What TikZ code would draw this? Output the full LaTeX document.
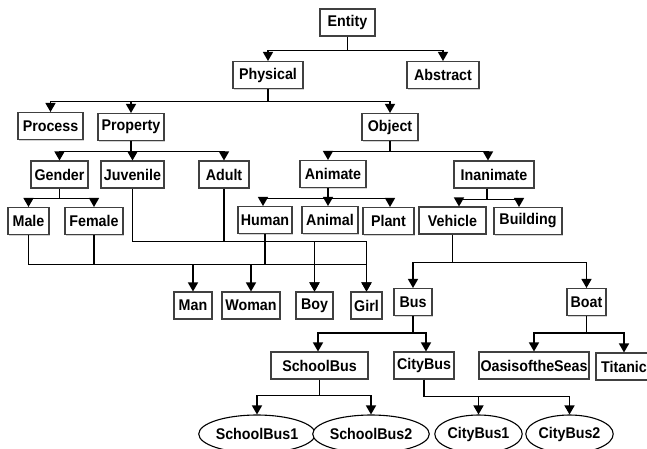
\documentclass[tikz,border=0pt]{standalone}
\usepackage{fontspec}
\setmainfont{Liberation Sans}[FakeStretch=0.92]
\usepackage{tikz}
\usetikzlibrary{arrows,shapes.geometric,shadows}
\tikzset{concept/.style={draw=black!75,line width=1.1pt,fill=white,inner sep=0pt,minimum height=27pt,font=\bfseries\fontsize{15.5}{17}\selectfont,drop shadow={shadow xshift=1.2pt,shadow yshift=-1.2pt,opacity=0.35}}}
\tikzset{instance/.style={ellipse,draw=black,line width=1.1pt,fill=white,inner sep=0pt,minimum height=38pt,font=\bfseries\fontsize{15.5}{17}\selectfont}}
\tikzset{link/.style={line width=1.5pt,->,>=triangle 60}}

\begin{document}
\begin{tikzpicture}
[x=1pt, y=-1pt]
\path[use as bounding box,fill=white] (0,0) rectangle (647,448);

% upper levels
\node (entity) at (347.5,22.5)[concept,minimum width=55pt]{Entity};
\node (physical) at (268,75)[concept,minimum width=70pt]{Physical};
\node (abstract) at (443,75)[concept,minimum width=72pt]{Abstract};
\node (process) at (50.5,126)[concept,minimum width=65pt]{Process};
\node (property) at (131,127)[concept,minimum width=66pt]{Property};
\node (object) at (390,127)[concept,minimum width=56pt]{Object};
\node (gender) at (59.5,174.5)[concept,minimum width=57pt]{Gender};
\node (juvenile) at (132.5,174.5)[concept,minimum width=63pt]{Juvenile};
\node (adult) at (224,174.5)[concept,minimum width=50pt]{Adult};
\node (animate) at (333,174)[concept,minimum width=66pt]{Animate};
\node (inanimate) at (494,174.5)[concept,minimum width=80pt]{Inanimate};
\node (male) at (28.5,221)[concept,minimum width=41pt]{Male};
\node (female) at (94,221)[concept,minimum width=58pt]{Female};
\node (human) at (265,220)[concept,minimum width=54pt]{Human};
\node (animal) at (330,220)[concept,minimum width=56pt]{Animal};
\node (plant) at (388.5,221)[concept,minimum width=51pt]{Plant};
\node (vehicle) at (452.5,220.5)[concept,minimum width=67pt]{Vehicle};
\node (building) at (528,221)[concept,minimum width=68pt]{Building};

% lower levels
\node (man) at (193,305.5)[concept,minimum width=38pt]{Man};
\node (woman) at (251,305.5)[concept,minimum width=58pt]{Woman};
\node (boy) at (314.5,305.5)[concept,minimum width=37pt]{Boy};
\node (girl) at (366.5,305.5)[concept,minimum width=31pt]{Girl};
\node (bus) at (413,302)[concept,minimum width=38pt]{Bus};
\node (boat) at (586.5,302)[concept,minimum width=39pt]{Boat};
\node (schoolbus) at (319.5,365.5)[concept,minimum width=97pt]{SchoolBus};
\node (citybus) at (424,365.5)[concept,minimum width=60pt]{CityBus};
\node (oasis) at (534,365.5)[concept,minimum width=110pt]{OasisoftheSeas};
\node (titanic) at (624,366.5)[concept,minimum width=56pt]{Titanic};
\node (sb1) at (257,434)[instance,minimum width=110pt]{SchoolBus1};
\node (sb2) at (371,434)[instance,minimum width=114pt]{SchoolBus2};
\node (cb1) at (478.5,434)[instance,minimum width=83pt]{CityBus1};
\node (cb2) at (569.5,434)[instance,minimum width=83pt]{CityBus2};

\draw[link] (entity.south) -- ++(0,14) -| (physical.north);
\draw[link] (entity.south) -- ++(0,14) -| (abstract.north);
\draw[link] (physical.south) -- ++(0,12.5) -| (process.north);
\draw[link] (physical.south) -- ++(0,12.5) -| (property.north);
\draw[link] (physical.south) -- ++(0,12.5) -| (object.north);
\draw[link] (property.south) -- ++(0,10.5) -| (gender.north);
\draw[link] (property.south) -- ++(0,10.5) -| (juvenile.north);
\draw[link] (property.south) -- ++(0,10.5) -| (adult.north);
\draw[link] (object.south) -- ++(0,10.5) -| ([xshift=-5pt]animate.north);
\draw[link] (object.south) -- ++(0,10.5) -| ([xshift=-6pt]inanimate.north);
\draw[link] (gender.south) -- ++(0,10) -| (male.north);
\draw[link] (gender.south) -- ++(0,10) -| (female.north);
\draw[link] ([xshift=-5pt]animate.south) -- ++(0,10.5) -| ([xshift=-2pt]human.north);
\draw[link] ([xshift=-5pt]animate.south) -- ++(0,10.5) -| ([xshift=-2pt]animal.north);
\draw[link] ([xshift=-5pt]animate.south) -- ++(0,10.5) -| ([xshift=1.5pt]plant.north);
\draw[link] ([xshift=-7pt]inanimate.south) -- ++(0,11) -| ([xshift=6.5pt]vehicle.north);
\draw[link] ([xshift=-7pt]inanimate.south) -- ++(0,11) -| ([xshift=-9pt]building.north);

% juvenile and adult
\draw[link] (juvenile.south) -- ++(0,53) -| (girl.north);
\draw[line width=1.5pt] (adult.south) -- ++(0,53);
\draw[link] (adult.south) ++(0,53) -| (boy.north);
% male, female and human
\draw[link] (male.south) -- ++(0,29.5) -| (girl.north);
\draw[line width=1.5pt] (female.south) -- ++(0,29.5);
\draw[line width=1.5pt] (human.south) -- ++(0,31);
\draw[link] (male.south) ++(0,29.5) -| (man.north);
\draw[link] (male.south) ++(0,29.5) -| (woman.north);
\draw[link] (male.south) ++(0,29.5) -| (boy.north);

\draw[link] (vehicle.south) -- ++(0,28) -| (bus.north);
\draw[link] (vehicle.south) -- ++(0,28) -| (boat.north);
\draw[link] (bus.south) -- ++(0,17) -| ([xshift=-1.5pt]schoolbus.north);
\draw[link] (bus.south) -- ++(0,17) -| ([xshift=2pt]citybus.north);
\draw[link] (boat.south) -- ++(0,17) -| (oasis.north);
\draw[link] (boat.south) -- ++(0,17) -| (titanic.north);
\draw[link] (schoolbus.south) -- ++(0,16) -| (sb1.north);
\draw[link] (schoolbus.south) -- ++(0,16) -| (sb2.north);
\draw[link] (citybus.south) -- ++(0,17) -| (cb1.north);
\draw[link] (citybus.south) -- ++(0,17) -| (cb2.north);
\end{tikzpicture}
\end{document}
